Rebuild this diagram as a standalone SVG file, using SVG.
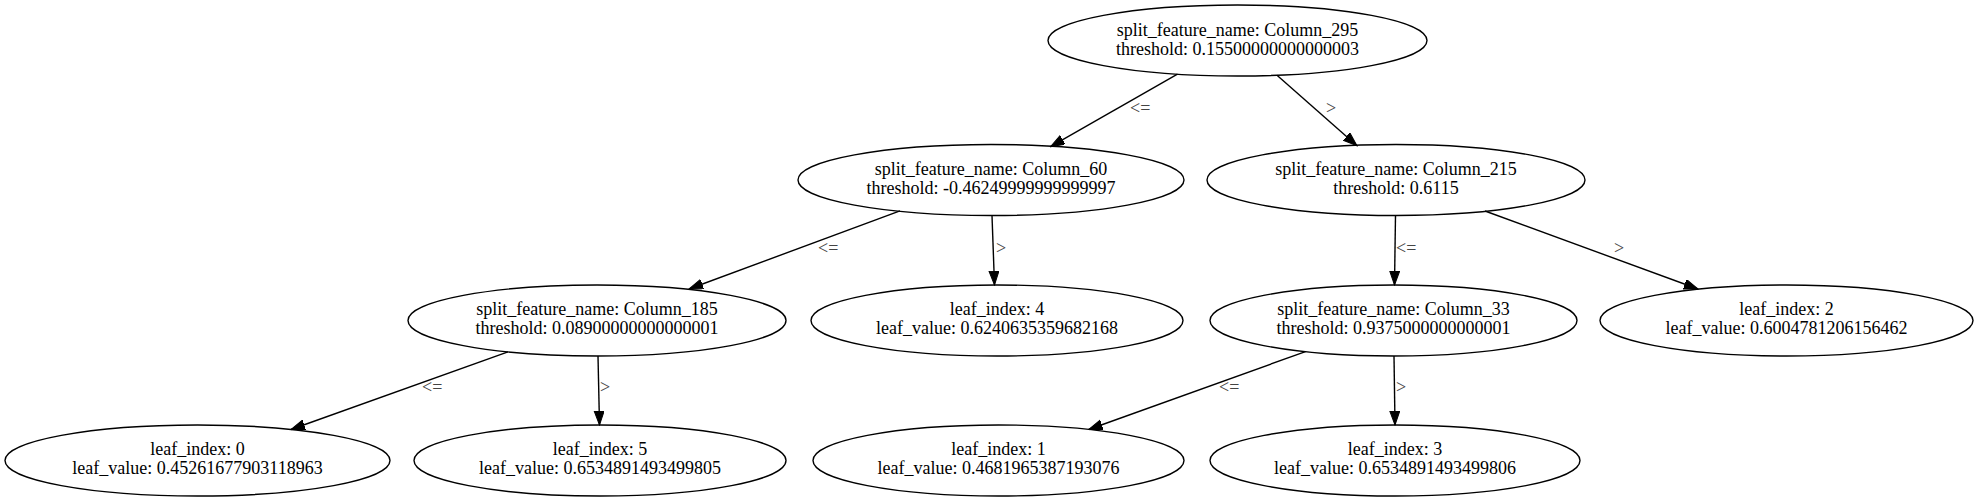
<svg xmlns="http://www.w3.org/2000/svg" width="1977" height="501" viewBox="0 0 1977 501">
<style>
.n ellipse{fill:none;stroke:#000;stroke-width:1.4}
.n text{font-family:"Liberation Serif","Times New Roman",serif;font-size:18px;fill:#000;text-anchor:middle}
.e line{stroke:#000;stroke-width:1.4;marker-end:url(#ah)}
.e text{font-family:"Liberation Serif","Times New Roman",serif;font-size:18px;fill:#444}
</style>
<defs>
<marker id="ah" markerUnits="userSpaceOnUse" markerWidth="15" markerHeight="11" refX="14" refY="5" orient="auto" viewBox="0 0 15 11">
<path d="M0,0 L14,5 L0,10 z" fill="#000" stroke="#000" stroke-width="1"/>
</marker>
</defs>
<rect width="1977" height="501" fill="#fff"/>
<g id="edges" class="e">
<line x1="1177.5" y1="74.2" x2="1050.5" y2="146.7"/>
<text x="1130" y="114">&lt;=</text>
<line x1="1277" y1="75.2" x2="1357" y2="145.7"/>
<text x="1326" y="114">&gt;</text>
<line x1="900" y1="210.9" x2="689" y2="289"/>
<text x="818" y="254">&lt;=</text>
<line x1="992" y1="215.5" x2="994.5" y2="285"/>
<text x="996" y="254">&gt;</text>
<line x1="1395.5" y1="215.5" x2="1394.5" y2="285"/>
<text x="1396" y="254">&lt;=</text>
<line x1="1485" y1="211" x2="1698" y2="289"/>
<text x="1614" y="254">&gt;</text>
<line x1="508" y1="351.8" x2="291" y2="429.5"/>
<text x="422" y="393">&lt;=</text>
<line x1="598" y1="356" x2="599.5" y2="425"/>
<text x="600" y="393">&gt;</text>
<line x1="1305.5" y1="351.6" x2="1088.7" y2="429.5"/>
<text x="1219" y="393">&lt;=</text>
<line x1="1394" y1="356" x2="1395" y2="425"/>
<text x="1396" y="393">&gt;</text>
</g>
<g id="node_root" class="n">
<ellipse cx="1237.5" cy="40.5" rx="189.5" ry="35.5"/>
<text x="1237.5" y="35.5">split_feature_name: Column_295</text>
<text x="1237.5" y="54.5">threshold: 0.15500000000000003</text>
</g>
<g id="node_c60" class="n">
<ellipse cx="991" cy="180" rx="193" ry="35.5"/>
<text x="991" y="175">split_feature_name: Column_60</text>
<text x="991" y="194">threshold: -0.46249999999999997</text>
</g>
<g id="node_c215" class="n">
<ellipse cx="1396" cy="180" rx="189" ry="35.5"/>
<text x="1396" y="175">split_feature_name: Column_215</text>
<text x="1396" y="194">threshold: 0.6115</text>
</g>
<g id="node_c185" class="n">
<ellipse cx="597" cy="320.5" rx="189" ry="35.5"/>
<text x="597" y="315">split_feature_name: Column_185</text>
<text x="597" y="334">threshold: 0.08900000000000001</text>
</g>
<g id="node_leaf4" class="n">
<ellipse cx="997" cy="320.5" rx="186" ry="35.5"/>
<text x="997" y="315">leaf_index: 4</text>
<text x="997" y="334">leaf_value: 0.6240635359682168</text>
</g>
<g id="node_c33" class="n">
<ellipse cx="1393.5" cy="320.5" rx="183.5" ry="35.5"/>
<text x="1393.5" y="315">split_feature_name: Column_33</text>
<text x="1393.5" y="334">threshold: 0.9375000000000001</text>
</g>
<g id="node_leaf2" class="n">
<ellipse cx="1786.5" cy="320.5" rx="186.5" ry="35.5"/>
<text x="1786.5" y="315">leaf_index: 2</text>
<text x="1786.5" y="334">leaf_value: 0.6004781206156462</text>
</g>
<g id="node_leaf0" class="n">
<ellipse cx="197.5" cy="460.5" rx="192.5" ry="35.5"/>
<text x="197.5" y="455">leaf_index: 0</text>
<text x="197.5" y="474">leaf_value: 0.45261677903118963</text>
</g>
<g id="node_leaf5" class="n">
<ellipse cx="600" cy="460.5" rx="186" ry="35.5"/>
<text x="600" y="455">leaf_index: 5</text>
<text x="600" y="474">leaf_value: 0.6534891493499805</text>
</g>
<g id="node_leaf1" class="n">
<ellipse cx="998.5" cy="460.5" rx="185.5" ry="35.5"/>
<text x="998.5" y="455">leaf_index: 1</text>
<text x="998.5" y="474">leaf_value: 0.4681965387193076</text>
</g>
<g id="node_leaf3" class="n">
<ellipse cx="1395" cy="460.5" rx="185" ry="35.5"/>
<text x="1395" y="455">leaf_index: 3</text>
<text x="1395" y="474">leaf_value: 0.6534891493499806</text>
</g>
</svg>
